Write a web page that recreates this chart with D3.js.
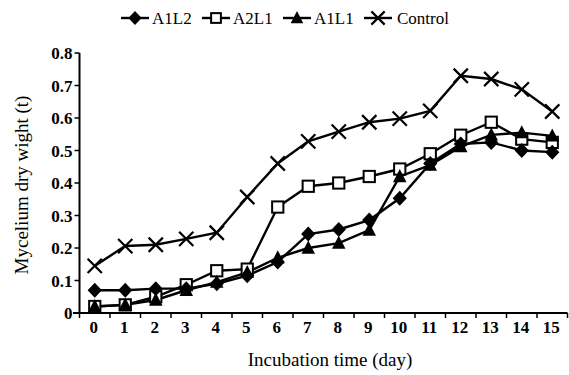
<!DOCTYPE html>
<html>
<head>
<meta charset="utf-8">
<script src="https://cdn.jsdelivr.net/npm/d3@7"></script>
<style>
  body { margin: 0; background: #fff; }
  svg { display: block; }
  svg text { font-family: "Liberation Serif", "Times New Roman", Times, "DejaVu Serif", serif; }
</style>
</head>
<body>
<svg id="chart" width="569" height="375"></svg>
<script>
var days = d3.range(0, 16);
var yTicks = [0, 0.1, 0.2, 0.3, 0.4, 0.5, 0.6, 0.7, 0.8];
var yTickLabels = ['0', '0.1', '0.2', '0.3', '0.4', '0.5', '0.6', '0.7', '0.8'];

var a1l2 = [0.07, 0.07, 0.075, 0.075, 0.09, 0.115, 0.157, 0.243, 0.257, 0.286, 0.353, 0.46, 0.52, 0.525, 0.50, 0.495];
var a2l1 = [0.02, 0.025, 0.05, 0.087, 0.13, 0.135, 0.326, 0.39, 0.40, 0.42, 0.443, 0.49, 0.547, 0.587, 0.535, 0.525];
var a1l1 = [0.02, 0.025, 0.04, 0.07, 0.095, 0.125, 0.17, 0.20, 0.215, 0.255, 0.42, 0.455, 0.512, 0.548, 0.555, 0.545];
var control = [0.145, 0.206, 0.21, 0.228, 0.247, 0.357, 0.46, 0.528, 0.558, 0.587, 0.598, 0.622, 0.73, 0.72, 0.688, 0.62];

var seriesNames = ['A1L2', 'A2L1', 'A1L1', 'Control'];
var seriesValues = [a1l2, a2l1, a1l1, control];
var markers = ['diamond', 'square', 'triangle', 'cross'];

var svg = d3.select('#chart');

var x = d3.scaleBand().domain(days).range([79.5, 567.5]);
var y = d3.scaleLinear().domain([0, 0.8]).range([313, 53]);

function cx(d) { return x(d) + x.bandwidth() / 2; }

// axes
var yAxis = svg.append('g').attr('transform', 'translate(79.5,0)');
yAxis.append('line').attr('y1', y(0.8)).attr('y2', y(0) + 1)
  .attr('stroke', '#000').attr('stroke-width', 2);
yAxis.selectAll('.tick').data(yTicks).enter().append('line')
  .attr('x1', -5).attr('x2', 0)
  .attr('y1', function(d) { return y(d); }).attr('y2', function(d) { return y(d); })
  .attr('stroke', '#000').attr('stroke-width', 1.5);
yAxis.selectAll('text').data(yTicks).enter().append('text')
  .attr('x', -7).attr('y', function(d) { return y(d) + 6; })
  .attr('text-anchor', 'end')
  .style('font-size', '17px').style('font-weight', 'bold')
  .text(function(d, i) { return yTickLabels[i]; });

var xAxis = svg.append('g').attr('transform', 'translate(0,313)');
xAxis.append('line').attr('x1', 73).attr('x2', 567.5)
  .attr('stroke', '#000').attr('stroke-width', 2);
xAxis.selectAll('.tick').data(d3.range(0, 17)).enter().append('line')
  .attr('x1', function(d) { return 79.5 + d * x.step(); })
  .attr('x2', function(d) { return 79.5 + d * x.step(); })
  .attr('y1', 0).attr('y2', 5)
  .attr('stroke', '#000').attr('stroke-width', 1.5);
xAxis.selectAll('text').data(days).enter().append('text')
  .attr('x', function(d) { return cx(d) - 1; }).attr('y', 20)
  .attr('text-anchor', 'middle')
  .style('font-size', '17px').style('font-weight', 'bold')
  .text(function(d) { return d; });

// titles
svg.append('text').attr('x', 330).attr('y', 366).attr('text-anchor', 'middle')
  .style('font-size', '19px').text('Incubation time (day)');
svg.append('text').attr('transform', 'translate(28,185) rotate(-90)')
  .attr('text-anchor', 'middle').style('font-size', '19px')
  .text('Mycelium dry wight (t)');

function drawMarker(g, type, s) {
  if (type === 'diamond') {
    g.append('path').attr('d', 'M0,' + (-s) + 'L' + (s * 0.95) + ',0L0,' + s + 'L' + (-s * 0.95) + ',0Z')
      .attr('fill', '#000');
  } else if (type === 'square') {
    var h = s * 0.75;
    g.append('rect').attr('x', -h).attr('y', -h).attr('width', 2 * h).attr('height', 2 * h)
      .attr('fill', '#fff').attr('stroke', '#000').attr('stroke-width', 2);
  } else if (type === 'triangle') {
    g.append('path').attr('d', 'M0,' + (-s) + 'L' + (s * 0.9) + ',' + (s * 0.75) + 'L' + (-s * 0.9) + ',' + (s * 0.75) + 'Z')
      .attr('fill', '#000');
  } else {
    var c = s * 0.95;
    g.append('path').attr('d', 'M' + (-c) + ',' + (-c) + 'L' + c + ',' + c + 'M' + (-c) + ',' + c + 'L' + c + ',' + (-c))
      .attr('stroke', '#000').attr('stroke-width', 2.2).attr('fill', 'none');
  }
}

var line = d3.line()
  .x(function(d, i) { return cx(days[i]); })
  .y(function(d) { return y(d); });

// draw control first, then others so filled markers sit on top
[3, 1, 2, 0].forEach(function(k) {
  svg.append('path').datum(seriesValues[k])
    .attr('d', line).attr('fill', 'none')
    .attr('stroke', '#000').attr('stroke-width', 2.4);
});
[3, 1, 2, 0].forEach(function(k) {
  seriesValues[k].forEach(function(v, i) {
    var g = svg.append('g').attr('transform', 'translate(' + cx(days[i]) + ',' + y(v) + ')');
    drawMarker(g, markers[k], 7.5);
  });
});

// legend
var legendX = [[121, 149, 152], [202, 230, 233], [283, 311, 314], [364, 392, 397]];
seriesNames.forEach(function(name, k) {
  var lx = legendX[k];
  var g = svg.append('g');
  g.append('line').attr('x1', lx[0]).attr('x2', lx[1]).attr('y1', 18).attr('y2', 18)
    .attr('stroke', '#000').attr('stroke-width', 2.4);
  var m = g.append('g').attr('transform', 'translate(' + ((lx[0] + lx[1]) / 2) + ',18)');
  drawMarker(m, markers[k], k === 1 ? 6.5 : 7);
  g.append('text').attr('x', lx[2]).attr('y', 24).style('font-size', '17px').text(name);
});
</script>
</body>
</html>
